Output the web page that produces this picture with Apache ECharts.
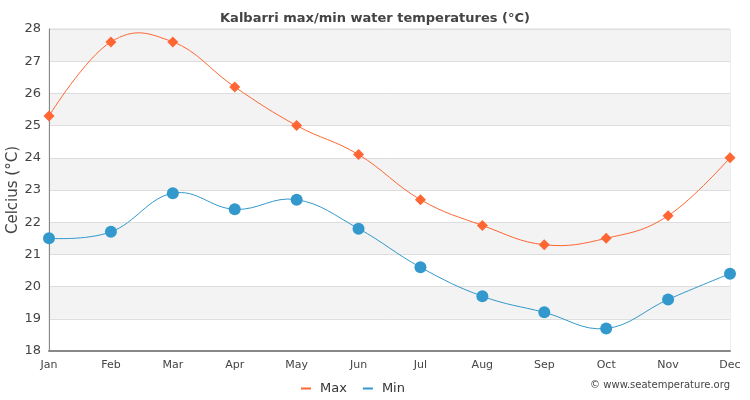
<!DOCTYPE html>
<html><head><meta charset="utf-8">
<script src="https://cdn.jsdelivr.net/npm/echarts@6/dist/echarts.min.js"></script>
<style>html,body{margin:0;padding:0;background:#fff}#c{width:750px;height:400px}</style>
</head><body><div id="c"></div>
<script>
var months = ['Jan','Feb','Mar','Apr','May','Jun','Jul','Aug','Sep','Oct','Nov','Dec'];
var maxTemps = [25.3, 27.6, 27.6, 26.2, 25.0, 24.1, 22.7, 21.9, 21.3, 21.5, 22.2, 24.0];
var minTemps = [21.5, 21.7, 22.9, 22.4, 22.7, 21.8, 20.6, 19.7, 19.2, 18.7, 19.6, 20.4];

// Spline path (cubic, smoothing 1.5) through points mapped by the chart's own scales
function splinePath(pts) {
  var s = 1.5, d = s + 1, n = pts.length, cps = [];
  for (var i = 0; i < n; i++) {
    var p = pts[i], lc = [p[0], p[1]], rc = [p[0], p[1]];
    if (i > 0 && i < n - 1) {
      var a = pts[i - 1], b = pts[i + 1];
      var lx = (s * p[0] + a[0]) / d, ly = (s * p[1] + a[1]) / d;
      var rx = (s * p[0] + b[0]) / d, ry = (s * p[1] + b[1]) / d;
      var corr = 0;
      if (rx !== lx) corr = ((ry - ly) * (rx - p[0])) / (rx - lx) + p[1] - ry;
      ly += corr; ry += corr;
      lc = [lx, ly]; rc = [rx, ry];
    }
    cps.push({l: lc, r: rc});
  }
  var path = 'M' + pts[0][0] + ' ' + pts[0][1];
  for (var j = 1; j < n; j++) {
    var c1 = cps[j - 1].r, c2 = cps[j].l, q = pts[j];
    path += ' C' + c1[0] + ' ' + c1[1] + ' ' + c2[0] + ' ' + c2[1] + ' ' + q[0] + ' ' + q[1];
  }
  return path;
}
function curveSeries(values, color) {
  return {
    type: 'custom', coordinateSystem: 'cartesian2d', data: [[0, values[0]]], z: 2, silent: true,
    renderItem: function (params, api) {
      var pts = values.map(function (v, i) { return api.coord([i, v]); });
      return {type: 'path', shape: {pathData: splinePath(pts)},
        style: {fill: null, stroke: color, lineWidth: 1}};
    }
  };
}

var chart = echarts.init(document.getElementById('c'));
chart.setOption({
  animation: false,
  title: {text: 'Kalbarri max/min water temperatures (°C)', left: 'center', top: 7,
    textStyle: {fontFamily: 'DejaVu Sans', fontSize: 13, fontWeight: 'bold', color: '#444'}},
  grid: {left: 49, right: 20, top: 29, bottom: 49, outerBoundsMode: 'none', containLabel: false,
    show: true, borderColor: '#ddd', borderWidth: 1},
  legend: {bottom: 0, left: 296, itemWidth: 10, itemHeight: 2, itemGap: 16,
    icon: 'rect', textStyle: {fontFamily: 'DejaVu Sans', fontSize: 13, color: '#333', padding: [0, 0, 0, 4]},
    data: ['Max', 'Min']},
  graphic: [
    {type: 'text', right: 20, bottom: 10,
      style: {text: '© www.seatemperature.org', font: '10px DejaVu Sans', fill: '#444'}},
    {type: 'text', x: 13, y: 190, rotation: Math.PI / 2,
      style: {text: 'Celcius (°C)', font: '15px DejaVu Sans', fill: '#444', align: 'center', verticalAlign: 'middle'}}
  ],
  xAxis: {type: 'category', data: months, boundaryGap: false,
    axisLine: {lineStyle: {color: '#888', width: 2}}, axisTick: {show: false},
    axisLabel: {color: '#444', fontFamily: 'DejaVu Sans', fontSize: 11, margin: 9},
    splitLine: {show: false}},
  yAxis: {type: 'value', min: 18, max: 28, interval: 1,
    axisLine: {show: true, lineStyle: {color: '#888', width: 1}}, axisTick: {show: false},
    axisLabel: {color: '#444', fontFamily: 'DejaVu Sans', fontSize: 13, margin: 8},
    splitLine: {lineStyle: {color: '#ddd'}},
    splitArea: {show: true, areaStyle: {color: ['#ffffff', '#f3f3f3']}}},
  series: [
    curveSeries(maxTemps, '#ff6633'),
    curveSeries(minTemps, '#3399cc'),
    {name: 'Max', type: 'line', data: maxTemps, symbol: 'diamond', symbolSize: 11, z: 3,
      itemStyle: {color: '#ff6633'}, lineStyle: {color: '#ff6633', width: 0, opacity: 0}},
    {name: 'Min', type: 'line', data: minTemps, symbol: 'circle', symbolSize: 12, z: 3,
      itemStyle: {color: '#3399cc'}, lineStyle: {color: '#3399cc', width: 0, opacity: 0}}
  ]
});
</script></body></html>
